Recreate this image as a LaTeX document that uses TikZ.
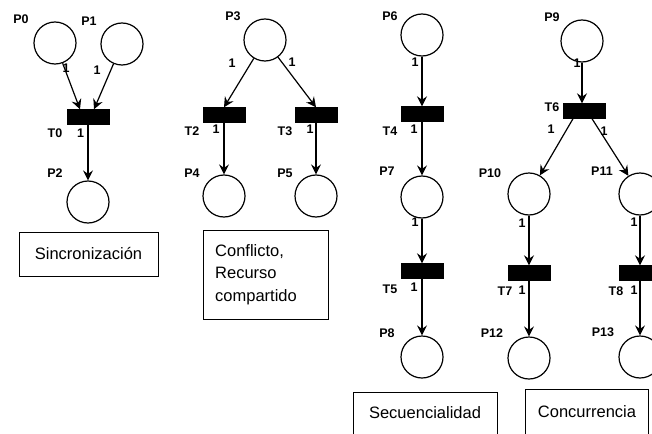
\documentclass[tikz,border=0pt]{standalone}
\usepackage{fontspec}
\setmainfont{Liberation Sans}
\usetikzlibrary{arrows.meta}
\begin{document}
\begin{tikzpicture}[x=1pt,y=-1pt,
  place/.style={circle,draw,line width=1.2pt,minimum size=42pt,inner sep=0pt},
  trans/.style={rectangle,fill=black,draw=black,minimum width=42pt,minimum height=15pt,inner sep=0pt},
  lbl/.style={font=\bfseries\fontsize{12.5}{14}\selectfont,inner sep=0pt},
  arc/.style={line width=1.2pt,-{Stealth[length=10pt,width=10pt,inset=3.5pt]}},
  boxline/.style={draw,line width=1pt},
  captext/.style={font=\fontsize{16.5}{22.5}\selectfont,inner sep=0pt}
]
\path[use as bounding box,clip] (0,0) rectangle (652,433);
\fill[white] (0,0) rectangle (652,433);

% --- synchronisation ---
\node[place] (P0) at (55,43) {};
\node[place] (P1) at (122,44) {};
\node[trans] (T0) at (88,117) {};
\node[place] (P2) at (88,202) {};
\node[lbl] (lP0) at (21,19) {P0};
\node[lbl] (lP1) at (89,21) {P1};
\node[lbl] (lT0) at (55,133) {T0};
\node[lbl] (lP2) at (55,173) {P2};
\draw[arc] (P0) -- ([xshift=-8pt]T0.north);
\draw[arc] (P1) -- ([xshift=6pt]T0.north);
\draw[arc] (T0) -- (P2);
\node[lbl] (w1) at (66,68) {1};
\node[lbl] (w2) at (97,70) {1};
\node[lbl] (w3) at (80.5,133) {1};
\draw[boxline] (19,232) rectangle (158,276);
\node[captext] (c1) at (88.5,254) {Sincronización};

% --- conflict ---
\node[place] (P3) at (265,40) {};
\node[trans] (T2) at (224,115) {};
\node[trans] (T3) at (316,115) {};
\node[place] (P4) at (224,196) {};
\node[place] (P5) at (316,196) {};
\node[lbl] (lP3) at (233,16) {P3};
\node[lbl] (lT2) at (192,131.5) {T2};
\node[lbl] (lT3) at (285,131) {T3};
\node[lbl] (lP4) at (192,173) {P4};
\node[lbl] (lP5) at (285,173) {P5};
\draw[arc] (P3) -- (T2.north);
\draw[arc] (P3) -- (T3.north);
\draw[arc] (T2) -- (P4);
\draw[arc] (T3) -- (P5);
\node[lbl] (w4) at (232,63) {1};
\node[lbl] (w5) at (292,62) {1};
\node[lbl] (w6) at (216,129) {1};
\node[lbl] (w7) at (310,129) {1};
\draw[boxline] (203,230) rectangle (328,319);
\node[captext,anchor=west,align=left] (c2) at (215,274.5) {Conflicto,\\Recurso\\compartido};

% --- sequence ---
\node[place] (P6) at (422,35) {};
\node[trans] (T4) at (422,114) {};
\node[place] (P7) at (422,197) {};
\node[trans] (T5) at (422,271) {};
\node[place] (P8) at (422,357) {};
\node[lbl] (lP6) at (390,16) {P6};
\node[lbl] (lT4) at (390,131) {T4};
\node[lbl] (lP7) at (387,171) {P7};
\node[lbl] (lT5) at (390,289) {T5};
\node[lbl] (lP8) at (387,333) {P8};
\draw[arc] (P6) -- (T4);
\draw[arc] (T4) -- (P7);
\draw[arc] (P7) -- (T5);
\draw[arc] (T5) -- (P8);
\node[lbl] (w8) at (415,62) {1};
\node[lbl] (w9) at (414,129) {1};
\node[lbl] (w10) at (415,222) {1};
\node[lbl] (w11) at (414,287) {1};
\draw[boxline] (353,392) rectangle (497,450);
\node[captext] (c3) at (425,413) {Secuencialidad};

% --- concurrency ---
\node[place] (P9) at (582,41) {};
\node[trans] (T6) at (584,111) {};
\node[place] (P10) at (529,194) {};
\node[place] (P11) at (640,194) {};
\node[trans] (T7) at (529,273) {};
\node[trans] (T8) at (640,273) {};
\node[place] (P12) at (529,358) {};
\node[place] (P13) at (640,357) {};
\node[lbl] (lP9) at (552,17) {P9};
\node[lbl] (lT6) at (552,107) {T6};
\node[lbl] (lP10) at (490,173) {P10};
\node[lbl] (lP11) at (602,171) {P11};
\node[lbl] (lT7) at (505,291) {T7};
\node[lbl] (lT8) at (616,291) {T8};
\node[lbl] (lP12) at (492,333) {P12};
\node[lbl] (lP13) at (603,332) {P13};
\draw[arc] (P9) -- ([xshift=-2pt]T6.north);
\draw[arc] ([xshift=-11pt]T6.south) -- (P10);
\draw[arc] ([xshift=8pt]T6.south) -- (P11);
\draw[arc] (P10) -- (T7);
\draw[arc] (P11) -- (T8);
\draw[arc] (T7) -- (P12);
\draw[arc] (T8) -- (P13);
\node[lbl] (w12) at (577,63) {1};
\node[lbl] (w13) at (551,129) {1};
\node[lbl] (w14) at (604,131) {1};
\node[lbl] (w15) at (522,223) {1};
\node[lbl] (w16) at (634,222) {1};
\node[lbl] (w17) at (522,290) {1};
\node[lbl] (w18) at (634,290) {1};
\draw[boxline] (525,389) rectangle (648,450);
\node[captext] (c4) at (587,412) {Concurrencia};
\end{tikzpicture}
\end{document}
